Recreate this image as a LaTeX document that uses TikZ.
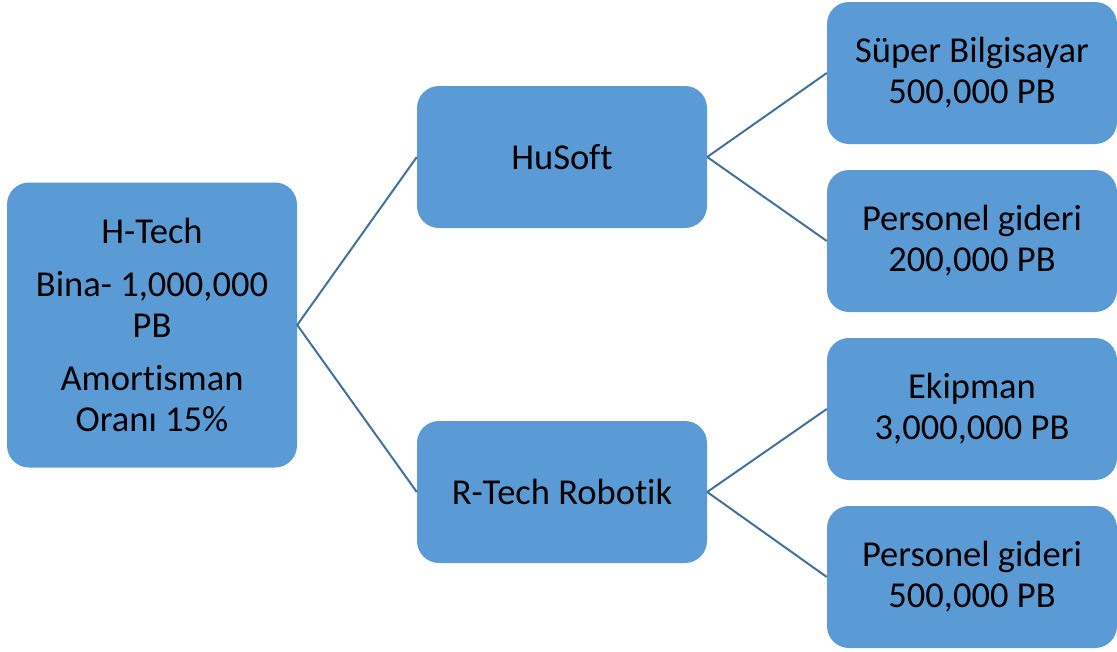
\documentclass[tikz,border=0pt]{standalone}
\usepackage{fontspec}
\setmainfont{Carlito}[Ligatures=NoCommon]
\definecolor{boxblue}{HTML}{5B9BD5}
\definecolor{linkblue}{HTML}{41719C}
\begin{document}
\begin{tikzpicture}[x=1pt,y=-1pt,
  box/.style={fill=boxblue, draw=none, rounded corners=22pt, minimum width=290pt, minimum height=142pt, align=center, text=black, font=\fontsize{36.5pt}{41pt}\selectfont, inner sep=0pt},
  link/.style={draw=linkblue, line width=2pt}]
\useasboundingbox (0,0) rectangle (1117,651);
\node[box, minimum height=285pt] (htech) at (152,325) {H-Tech\\[12pt]Bina- 1,000,000\\PB\\[12pt]Amortisman\\Oranı 15\%};
\node[box] (husoft) at (562,157) {HuSoft};
\node[box] (rtech) at (562,492) {R-Tech Robotik};
\node[box] (super) at (972,73) {Süper Bilgisayar\\500,000 PB};
\node[box] (pers1) at (972,241) {Personel gideri\\200,000 PB};
\node[box] (ekip) at (972,409) {Ekipman\\3,000,000 PB};
\node[box] (pers2) at (972,577) {Personel gideri\\500,000 PB};
\draw[link] (htech.east) -- (husoft.west);
\draw[link] (htech.east) -- (rtech.west);
\draw[link] (husoft.east) -- (super.west);
\draw[link] (husoft.east) -- (pers1.west);
\draw[link] (rtech.east) -- (ekip.west);
\draw[link] (rtech.east) -- (pers2.west);
\end{tikzpicture}
\end{document}
